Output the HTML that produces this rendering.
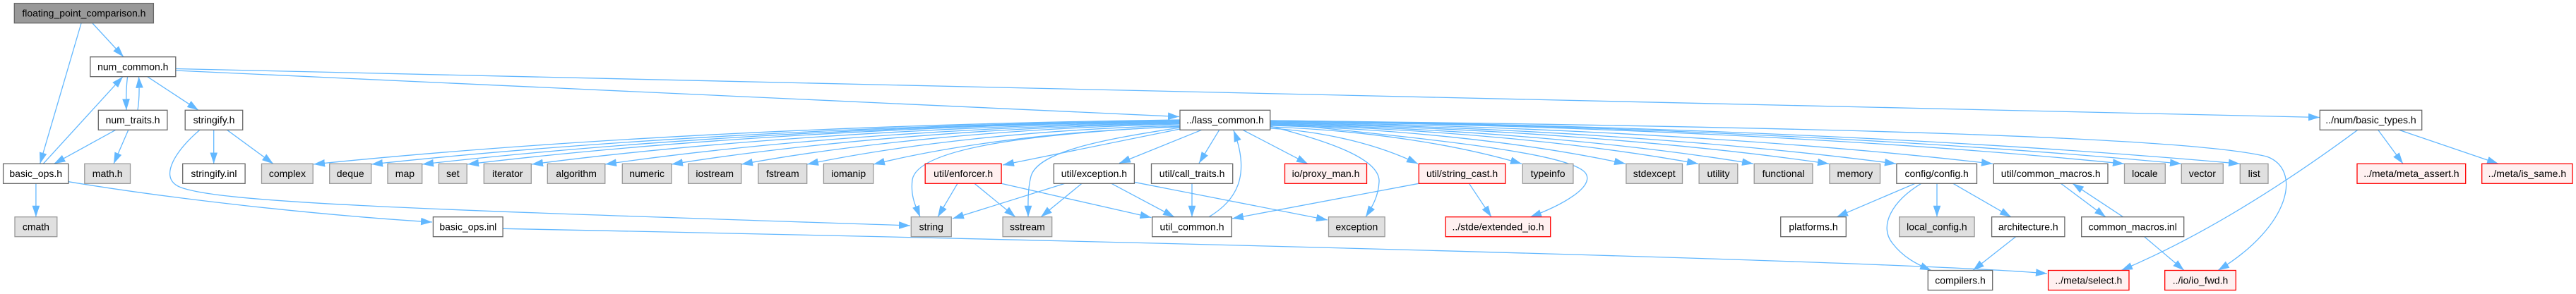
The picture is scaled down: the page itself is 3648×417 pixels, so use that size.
<!DOCTYPE html>
<html>
<head>
<meta charset="utf-8">
<style>
html,body{margin:0;padding:0;background:#fff;width:3648px;height:417px;overflow:hidden;}
svg{display:block;}
text{font-family:"Liberation Sans","DejaVu Sans",sans-serif;font-size:14px;text-anchor:middle;fill:#000;}
.e{fill:none;stroke:#63b8ff;stroke-width:1.3;marker-end:url(#ah);}
.w{fill:#fff;stroke:#666;stroke-width:1.3;}
.g{fill:#e0e0e0;stroke:#999;stroke-width:1.3;}
.r{fill:#fff0f0;stroke:#ff0000;stroke-width:1.3;}
.root{fill:#999;stroke:#666;stroke-width:1.3;}
</style>
</head>
<body>
<svg width="3648" height="417" viewBox="0 0 3648 417" xmlns="http://www.w3.org/2000/svg">
<defs>
<marker id="ah" markerUnits="userSpaceOnUse" markerWidth="16" markerHeight="11" viewBox="0 0 15 10" refX="15" refY="5" orient="auto">
<path d="M0,0 L15,5 L0,10 z" fill="#63b8ff"/>
</marker>
</defs>

<!-- edges -->
<g>
<path class="e" d="M131,33 L175,80.7"/>
<path class="e" d="M115,33 L56.6,232.3"/>
<path class="e" d="M180.6,108.7 C178.5,125 178.5,140 179,156.3"/>
<path class="e" d="M195,156.3 C197.5,140 197.5,125 196.5,108.7"/>
<path class="e" d="M208.6,108.7 L281,156.3"/>
<path class="e" d="M249,100 L1670,165.5"/>
<path class="e" d="M249,97.5 L3285,166.5"/>
<path class="e" d="M61.2,232.3 L174,108.7"/>
<path class="e" d="M163.8,184.3 L76.5,232.3"/>
<path class="e" d="M181.8,184.3 L161,232.3"/>
<path class="e" d="M50.9,260.3 L50.9,307.7"/>
<path class="e" d="M96.8,257.7 C250,283 450,305 612,315"/>
<path class="e" d="M302.7,184.3 L302.7,232.3"/>
<path class="e" d="M321.5,184.3 L387,232.3"/>
<path class="e" d="M283,184.3 C250,212 225,250 252,264 C300,288 600,297 1289,320"/>
<path class="e" d="M712,324.3 C1500,340 2700,370 2899,388"/>

<!-- lass_common left fan -->
<path class="e" d="M1671,170 C1180.2,176.3 750.75,201.5 444,233"/>
<path class="e" d="M1671,171 C1213,177.2 812.25,202 526,233"/>
<path class="e" d="M1671,171.5 C1241.8,177.65 866.25,202.25 598,233"/>
<path class="e" d="M1671,172 C1267.4,178.1 914.25,202.5 662,233"/>
<path class="e" d="M1671,173 C1303.8,179 982.5,203 753,233"/>
<path class="e" d="M1671,174 C1345.4,179.9 1060.5,203.5 857,233"/>
<path class="e" d="M1671,175 C1383,180.8 1131,204 951,233"/>
<path class="e" d="M1671,176 C1422.6,181.7 1205.25,204.5 1050,233"/>
<path class="e" d="M1671,178 C1459.8,183.5 1275,205.5 1143,233"/>
<path class="e" d="M1671,180 C1497.4,185.3 1345.5,206.5 1237,233"/>
<path class="e" d="M1671,183 L1420,234"/>
<path class="e" d="M1671,179 C1500,188 1300,205 1292,255 C1289,280 1298,295 1303,307.7"/>
<path class="e" d="M1671,181 C1560,198 1470,215 1460,250 C1455,270 1456,290 1456,307.7"/>
<path class="e" d="M1701.7,184.3 L1585,231.5"/>
<path class="e" d="M1726.7,184.3 L1698,231.5"/>
<path class="e" d="M1712,307.7 C1750,285 1772,250 1747,185"/>

<!-- lass_common right fan -->
<path class="e" d="M1760,184.3 L1852,232.3"/>
<path class="e" d="M1799,182 C1882.6,187 1956,207 2008,232.3"/>
<path class="e" d="M1799,180 C1941.4,185.2 2066,206 2155,232.3"/>
<path class="e" d="M1799,178 C2000.2,183.4 2176.25,205 2302,232.3"/>
<path class="e" d="M1799,177 C2041.4,182.5 2253.5,204.5 2405,232.3"/>
<path class="e" d="M1799,176 C2072.6,181.6 2312,204 2483,232.3"/>
<path class="e" d="M1799,175 C2115.4,180.7 2392.25,203.5 2590,232.3"/>
<path class="e" d="M1799,174 C2153.4,179.8 2463.5,203 2685,232.3"/>
<path class="e" d="M1799,173 C2208.2,178.9 2566.25,202.5 2822,232.3"/>
<path class="e" d="M1799,172 C2282.6,178 2705.75,202 3008,232.3"/>
<path class="e" d="M1799,171.5 C2315,177.55 2766.5,201.75 3089,232.3"/>
<path class="e" d="M1799,171 C2348.2,177.1 2828.75,201.5 3172,232.3"/>
<path class="e" d="M1799,179 C1880,200 1955,225 1953,258 C1952,280 1942,295 1934,307.7"/>
<path class="e" d="M1799,174 C2000,195 2220,215 2245,245 C2260,265 2210,292 2167,307.7"/>
<path class="e" d="M1799,171 C2600,180 3100,195 3210,222 C3260,240 3245,320 3141,383.5"/>

<!-- util edges -->
<path class="e" d="M1356,260.3 L1328,307.7"/>
<path class="e" d="M1380,260.3 L1438,307.7"/>
<path class="e" d="M1418,260.3 L1630.5,308.5"/>
<path class="e" d="M1508,260.3 L1349,310"/>
<path class="e" d="M1532,260.3 L1474,307.7"/>
<path class="e" d="M1574,260.3 L1663,307.7"/>
<path class="e" d="M1606,258.3 L1880,312"/>
<path class="e" d="M1688,260.3 L1688,307.7"/>
<path class="e" d="M2009,260.3 L1745,310"/>
<path class="e" d="M2080.5,260.3 L2112,307.7"/>

<!-- config edges -->
<path class="e" d="M2712,260.3 L2601,307.7"/>
<path class="e" d="M2743,260.3 L2743,307.7"/>
<path class="e" d="M2766,260.3 L2848,307.7"/>
<path class="e" d="M2720.7,260.3 C2680,285 2660,320 2680,345 C2695,365 2715,375 2735,383.5"/>
<path class="e" d="M2854.6,335.7 L2794,383.5"/>
<path class="e" d="M2918.6,260.3 L2982,307.7"/>
<path class="e" d="M3006.7,307.7 L2935,260.3"/>
<path class="e" d="M3036.7,335.7 L3093,383.5"/>

<!-- basic_types edges -->
<path class="e" d="M3338.8,184.3 C3250,250 3130,330 3004,383.5"/>
<path class="e" d="M3367.7,184.3 L3403,232.3"/>
<path class="e" d="M3397.3,184.3 L3538,232.3"/>
</g>

<!-- nodes -->
<g>
<!-- row 0 -->
<rect class="root" x="20.3" y="4.7" width="197.1" height="28"/><text x="118.9" y="23.5">floating_point_comparison.h</text>
<!-- row 1 -->
<rect class="w" x="127.8" y="80.7" width="121" height="28"/><text x="188.3" y="99.5">num_common.h</text>
<!-- row 2 -->
<rect class="w" x="139.3" y="156.3" width="97.6" height="28"/><text x="188.1" y="175.1">num_traits.h</text>
<rect class="w" x="262.2" y="156.3" width="81.5" height="28"/><text x="303" y="175.1">stringify.h</text>
<rect class="w" x="1671" y="156.3" width="127.7" height="28"/><text x="1734.9" y="175.1">../lass_common.h</text>
<rect class="w" x="3285.3" y="156.3" width="144.4" height="28"/><text x="3357.5" y="175.1">../num/basic_types.h</text>
<!-- row 3 -->
<rect class="w" x="4.6" y="232.3" width="92.2" height="28"/><text x="50.7" y="251.1">basic_ops.h</text>
<rect class="g" x="119.8" y="232.3" width="64.7" height="28"/><text x="152.2" y="251.1">math.h</text>
<rect class="w" x="258.7" y="232.3" width="88.4" height="28"/><text x="302.9" y="251.1">stringify.inl</text>
<rect class="g" x="370.5" y="232.3" width="72.7" height="28"/><text x="406.9" y="251.1">complex</text>
<rect class="g" x="466.7" y="232.3" width="59" height="28"/><text x="496.2" y="251.1">deque</text>
<rect class="g" x="549" y="232.3" width="48.7" height="28"/><text x="573.4" y="251.1">map</text>
<rect class="g" x="621.4" y="232.3" width="39.8" height="28"/><text x="641.3" y="251.1">set</text>
<rect class="g" x="685.3" y="232.3" width="67" height="28"/><text x="718.8" y="251.1">iterator</text>
<rect class="g" x="775.3" y="232.3" width="81.5" height="28"/><text x="816.1" y="251.1">algorithm</text>
<rect class="g" x="881.3" y="232.3" width="69.6" height="28"/><text x="916.1" y="251.1">numeric</text>
<rect class="g" x="974.7" y="232.3" width="75" height="28"/><text x="1012.2" y="251.1">iostream</text>
<rect class="g" x="1073.8" y="232.3" width="68.9" height="28"/><text x="1108.3" y="251.1">fstream</text>
<rect class="g" x="1166.4" y="232.3" width="70.3" height="28"/><text x="1201.6" y="251.1">iomanip</text>
<rect class="r" x="1310.2" y="232.3" width="107.9" height="28"/><text x="1364.2" y="251.1">util/enforcer.h</text>
<rect class="w" x="1492.4" y="232.3" width="114" height="28"/><text x="1549.4" y="251.1">util/exception.h</text>
<rect class="w" x="1630.5" y="232.3" width="115.2" height="28"/><text x="1688.1" y="251.1">util/call_traits.h</text>
<rect class="r" x="1819.5" y="232.3" width="116" height="28"/><text x="1877.5" y="251.1">io/proxy_man.h</text>
<rect class="r" x="2009.3" y="232.3" width="122.5" height="28"/><text x="2070.6" y="251.1">util/string_cast.h</text>
<rect class="g" x="2156.3" y="232.3" width="71.6" height="28"/><text x="2192.1" y="251.1">typeinfo</text>
<rect class="g" x="2302.9" y="232.3" width="79.6" height="28"/><text x="2342.7" y="251.1">stdexcept</text>
<rect class="g" x="2406.1" y="232.3" width="54.7" height="28"/><text x="2433.5" y="251.1">utility</text>
<rect class="g" x="2484.2" y="232.3" width="82.7" height="28"/><text x="2525.6" y="251.1">functional</text>
<rect class="g" x="2591" y="232.3" width="71.5" height="28"/><text x="2626.8" y="251.1">memory</text>
<rect class="w" x="2685.9" y="232.3" width="113.6" height="28"/><text x="2742.7" y="251.1">config/config.h</text>
<rect class="w" x="2823.3" y="232.3" width="161.7" height="28"/><text x="2904.2" y="251.1">util/common_macros.h</text>
<rect class="g" x="3008.5" y="232.3" width="57.8" height="28"/><text x="3037.4" y="251.1">locale</text>
<rect class="g" x="3089.3" y="232.3" width="59" height="28"/><text x="3118.8" y="251.1">vector</text>
<rect class="g" x="3172.3" y="232.3" width="39.7" height="28"/><text x="3192.2" y="251.1">list</text>
<rect class="r" x="3338" y="232.3" width="153.7" height="28"/><text x="3414.9" y="251.1">../meta/meta_assert.h</text>
<rect class="r" x="3514.7" y="232.3" width="128.3" height="28"/><text x="3578.9" y="251.1">../meta/is_same.h</text>
<!-- row 4 -->
<rect class="g" x="21" y="307.7" width="59.8" height="28"/><text x="50.9" y="326.5">cmath</text>
<rect class="w" x="613.4" y="307.7" width="98.7" height="28"/><text x="662.8" y="326.5">basic_ops.inl</text>
<rect class="g" x="1290.3" y="307.7" width="57" height="28"/><text x="1318.8" y="326.5">string</text>
<rect class="g" x="1420.1" y="307.7" width="69.6" height="28"/><text x="1454.9" y="326.5">sstream</text>
<rect class="w" x="1631.7" y="307.7" width="112.5" height="28"/><text x="1688" y="326.5">util_common.h</text>
<rect class="g" x="1881.5" y="307.7" width="79.6" height="28"/><text x="1921.3" y="326.5">exception</text>
<rect class="r" x="2047.2" y="307.7" width="148.5" height="28"/><text x="2121.5" y="326.5">../stde/extended_io.h</text>
<rect class="w" x="2521.7" y="307.7" width="92.6" height="28"/><text x="2568" y="326.5">platforms.h</text>
<rect class="g" x="2689.7" y="307.7" width="106.4" height="28"/><text x="2742.9" y="326.5">local_config.h</text>
<rect class="w" x="2820.6" y="307.7" width="103.3" height="28"/><text x="2872.3" y="326.5">architecture.h</text>
<rect class="w" x="2947.7" y="307.7" width="145" height="28"/><text x="3020.2" y="326.5">common_macros.inl</text>
<!-- row 5 -->
<rect class="w" x="2730.3" y="383.5" width="91.4" height="28"/><text x="2776" y="402.3">compilers.h</text>
<rect class="r" x="2900.6" y="383.5" width="114.4" height="28"/><text x="2957.8" y="402.3">../meta/select.h</text>
<rect class="r" x="3065.7" y="383.5" width="100.6" height="28"/><text x="3116" y="402.3">../io/io_fwd.h</text>
</g>
</svg>
</body>
</html>
